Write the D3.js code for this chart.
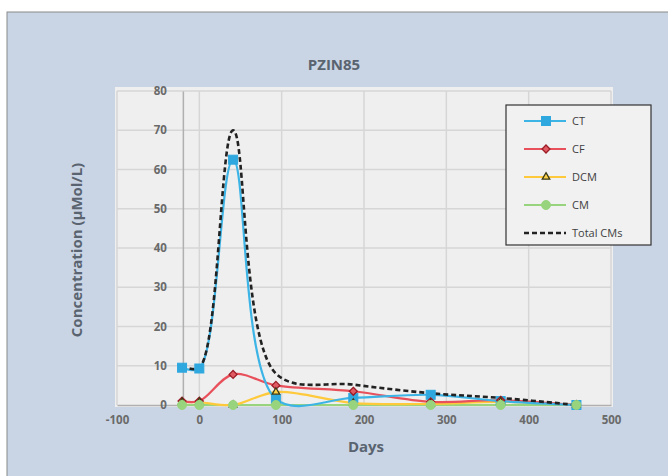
<!DOCTYPE html>
<html>
<head>
<meta charset="utf-8">
<script src="https://cdn.jsdelivr.net/npm/d3@7"></script>
<style>
  body { margin: 0; background: #fff; }
  text { font-family: "Open Sans", "Noto Sans", sans-serif; }
</style>
</head>
<body>
<svg id="chart" width="668" height="476"></svg>
<script>
// sampling days and series values (µMol/L)
const days     = [-21, 0, 41, 93, 187, 281, 366, 458];
const ct       = [9.5, 9.3, 62.5, 1.5, 1.8, 2.6, 1.0, 0];
const cf       = [1.0, 1.0, 7.8, 5.0, 3.5, 0.8, 1.2, 0];
const dcm      = [0.7, 0.7, 0.0, 3.3, 0.5, 0.3, 0.8, 0];
const cm       = [0, 0, 0, 0, 0, 0, 0, 0];
const totalCMs = [10.0, 9.5, 70.0, 8.0, 5.2, 3.0, 1.8, 0];

const xTicks = [-100, 0, 100, 200, 300, 400, 500];
const yTicks = [0, 10, 20, 30, 40, 50, 60, 70, 80];

const series = [
   { name: 'CT',        values: ct,       color: '#3db4e6', marker: 'square' },
   { name: 'CF',        values: cf,       color: '#e8505b', marker: 'diamond' },
   { name: 'DCM',       values: dcm,      color: '#ffc93c', marker: 'triangle' },
   { name: 'CM',        values: cm,       color: '#98d47e', marker: 'circle' },
   { name: 'Total CMs', values: totalCMs, color: '#222222', marker: null, dash: '5,3' }
];

const svg = d3.select('#chart');

// chart background and frame
svg.append('rect').attr('x', 7).attr('y', 12).attr('width', 670).attr('height', 470)
   .style('fill', '#c9d5e4').style('stroke', '#8a8a8a').style('stroke-width', 1);

const x = d3.scaleLinear().domain([-100, 500]).range([117, 611]);
const y = d3.scaleLinear().domain([0, 80]).range([405, 91]);

// plot area
svg.append('rect').attr('x', 115).attr('y', 87).attr('width', 498).attr('height', 320)
   .style('fill', '#efefef');

// grid
svg.append('g').selectAll('line.h').data(yTicks.slice(1)).enter()
   .append('line')
   .attr('x1', x(-100)).attr('x2', x(500))
   .attr('y1', d => y(d)).attr('y2', d => y(d))
   .style('stroke', '#d6d6d6').style('stroke-width', 1.5);

svg.append('g').selectAll('line.v').data(xTicks).enter()
   .append('line')
   .attr('x1', d => x(d)).attr('x2', d => x(d))
   .attr('y1', y(0)).attr('y2', y(80))
   .style('stroke', '#d6d6d6').style('stroke-width', 1.5);

// axes (value axis crosses at day -20)
const xAxis = svg.append('g').attr('transform', `translate(0,${y(0)})`)
   .call(d3.axisBottom(x).tickValues(xTicks).tickFormat(d => String(d)).tickSize(0).tickPadding(11));
const yAxis = svg.append('g').attr('transform', `translate(${x(-20)},0)`)
   .call(d3.axisLeft(y).tickValues(yTicks).tickFormat(d => String(d)).tickSize(0).tickPadding(16));

[xAxis, yAxis].forEach(a => {
   a.select('.domain').style('stroke', '#b0b0b0').style('stroke-width', 1.5);
   a.selectAll('text')
      .style('font-size', '11.5px').style('font-weight', 'bold').style('fill', '#6a6a6a');
});

// lines
const line = d3.line()
   .x((d, i) => x(days[i]))
   .y(d => y(d))
   .curve(d3.curveCatmullRom.alpha(0.5));

const order = [3, 2, 1, 0, 4];
order.forEach(k => {
   const s = series[k];
   svg.append('path')
      .datum(s.values)
      .attr('d', line)
      .style('fill', 'none')
      .style('stroke', s.color)
      .style('stroke-width', s.dash ? 2.6 : 2.2)
      .style('stroke-dasharray', s.dash || null);
});

// markers
function drawMarker(g, type, cx, cy) {
   if (type === 'square') {
      g.append('rect').attr('x', cx - 4.5).attr('y', cy - 4.5).attr('width', 9).attr('height', 9)
         .style('fill', '#2fa8df').style('stroke', '#2fa8df');
   } else if (type === 'diamond') {
      g.append('path').attr('d', d3.symbol(d3.symbolDiamond2, 40)())
         .attr('transform', `translate(${cx},${cy})`)
         .style('fill', '#e05a63').style('stroke', '#9b1c26').style('stroke-width', 1.3);
   } else if (type === 'triangle') {
      g.append('path').attr('d', d3.symbol(d3.symbolTriangle2, 40)())
         .attr('transform', `translate(${cx},${cy})`)
         .style('fill', '#ffd24a').style('stroke', '#3a3a1a').style('stroke-width', 1.3);
   } else if (type === 'circle') {
      g.append('circle').attr('cx', cx).attr('cy', cy).attr('r', 4.5)
         .style('fill', '#98d47e').style('stroke', '#98d47e');
   }
}

[0, 1, 2, 3].forEach(k => {
   const s = series[k];
   const g = svg.append('g');
   s.values.forEach((v, i) => drawMarker(g, s.marker, x(days[i]), y(v)));
});

// titles
svg.append('text').attr('x', 334).attr('y', 70).attr('text-anchor', 'middle')
   .style('font-size', '15px').style('font-weight', 'bold').style('fill', '#5a6470')
   .text('PZIN85');

svg.append('text').attr('x', 366).attr('y', 452).attr('text-anchor', 'middle')
   .style('font-size', '15px').style('font-weight', 'bold').style('fill', '#5a6470')
   .text('Days');

svg.append('text').attr('transform', 'translate(82,250) rotate(-90)').attr('text-anchor', 'middle')
   .style('font-size', '15px').style('font-weight', 'bold').style('fill', '#5a6470')
   .text('Concentration (µMol/L)');

// legend
const lg = svg.append('g').attr('transform', 'translate(506,105)');
lg.append('rect').attr('width', 145).attr('height', 140)
   .style('fill', '#f1f1f1').style('stroke', '#333').style('stroke-width', 1.2);

series.forEach((s, i) => {
   const ly = 16 + i * 28;
   lg.append('line').attr('x1', 18).attr('x2', 60).attr('y1', ly).attr('y2', ly)
      .style('stroke', s.color).style('stroke-width', s.dash ? 2.4 : 2)
      .style('stroke-dasharray', s.dash || null);
   if (s.marker) drawMarker(lg, s.marker, 40, ly);
   lg.append('text').attr('x', 66).attr('y', ly + 4)
      .style('font-size', '11px').style('fill', '#404040')
      .text(s.name);
});
</script>
</body>
</html>
